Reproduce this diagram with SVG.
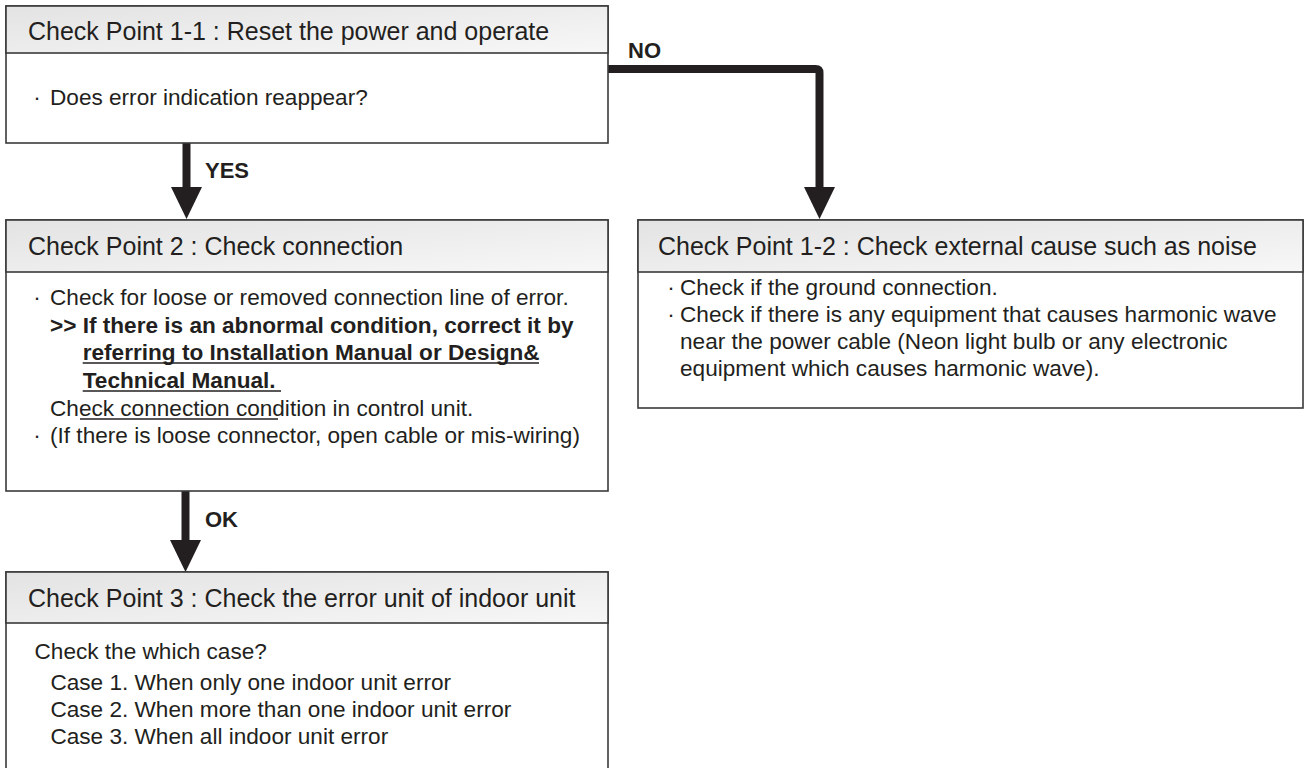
<svg xmlns="http://www.w3.org/2000/svg" width="1304" height="768" viewBox="0 0 1304 768">
<defs>
<linearGradient id="hg" x1="0" y1="0" x2="1" y2="1">
<stop offset="0" stop-color="#e3e3e3"/>
<stop offset="1" stop-color="#f7f7f7"/>
</linearGradient>
</defs>
<style>
.box{fill:#fff;stroke:#3a3a3a;stroke-width:1.6}
.hdr{fill:url(#hg);stroke:#3a3a3a;stroke-width:1.6}
.t{font-family:"Liberation Sans",Arial,sans-serif;font-size:25px;fill:#231f20}
.b{font-family:"Liberation Sans",Arial,sans-serif;font-size:22.6px;fill:#231f20}
.bb{font-family:"Liberation Sans",Arial,sans-serif;font-size:22.6px;font-weight:bold;fill:#231f20}
.lbl{font-family:"Liberation Sans",Arial,sans-serif;font-size:22px;font-weight:bold;fill:#231f20}
.dot{font-family:"Liberation Sans",Arial,sans-serif;font-size:22.6px;fill:#231f20;text-anchor:middle}
.ul{stroke:#231f20;stroke-width:1.6}
.shaft{fill:none;stroke:#231f20;stroke-width:8}
.head{fill:#231f20}
</style>
<rect width="1304" height="768" fill="#fff"/>
<g id="connectors">
<line class="shaft" x1="186.5" y1="143" x2="186.5" y2="190"/>
<polygon class="head" points="171,187 202,187 186.5,219"/>
<text class="lbl" x="205" y="178">YES</text>
<path class="shaft" d="M608,69 H815.5 Q819.5,69 819.5,73 V190"/>
<polygon class="head" points="804,187 835,187 819.5,219"/>
<text class="lbl" x="628" y="58">NO</text>
<line class="shaft" x1="185.5" y1="491" x2="185.5" y2="543"/>
<polygon class="head" points="170,540 201,540 185.5,572"/>
<text class="lbl" x="205" y="527">OK</text>
</g>
<g id="cp11">
<rect class="box" x="6" y="6" width="602" height="137"/>
<rect class="hdr" x="6" y="6" width="602" height="47"/>
<text class="t" x="28" y="40">Check Point 1-1 : Reset the power and operate</text>
<text class="dot" x="37" y="105">·</text>
<text class="b" x="50" y="105">Does error indication reappear?</text>
</g>
<g id="cp2">
<rect class="box" x="6" y="220" width="602" height="271"/>
<rect class="hdr" x="6" y="220" width="602" height="52"/>
<text class="t" x="28" y="255">Check Point 2 : Check connection</text>
<text class="dot" x="37" y="305">·</text>
<text class="b" x="50" y="305">Check for loose or removed connection line of error.</text>
<text class="bb" x="50" y="333">&gt;&gt; If there is an abnormal condition, correct it by</text>
<text class="bb" x="82.7" y="360">referring to Installation Manual or Design&amp;</text>
<line class="ul" x1="82.7" y1="363" x2="539" y2="363"/>
<text class="bb" x="82.7" y="388">Technical Manual.</text>
<line class="ul" x1="82.7" y1="391" x2="281" y2="391"/>
<text class="b" x="50" y="416">Check connection condition in control unit.</text>
<line class="ul" x1="80" y1="419" x2="278" y2="419"/>
<text class="dot" x="37" y="443">·</text>
<text class="b" x="50" y="443">(If there is loose connector, open cable or mis-wiring)</text>
</g>
<g id="cp3">
<rect class="box" x="6" y="572" width="602" height="230"/>
<rect class="hdr" x="6" y="572" width="602" height="51"/>
<text class="t" x="28" y="607">Check Point 3 : Check the error unit of indoor unit</text>
<text class="b" x="34.5" y="659">Check the which case?</text>
<text class="b" x="50.4" y="690">Case 1. When only one indoor unit error</text>
<text class="b" x="50.4" y="717">Case 2. When more than one indoor unit error</text>
<text class="b" x="50.4" y="744">Case 3. When all indoor unit error</text>
</g>
<g id="cp12">
<rect class="box" x="638" y="220" width="665" height="188"/>
<rect class="hdr" x="638" y="220" width="665" height="52"/>
<text class="t" x="658" y="255">Check Point 1-2 : Check external cause such as noise</text>
<text class="dot" x="671" y="295">·</text>
<text class="b" x="680" y="295">Check if the ground connection.</text>
<text class="dot" x="671" y="322">·</text>
<text class="b" x="680" y="322">Check if there is any equipment that causes harmonic wave</text>
<text class="b" x="680" y="349">near the power cable (Neon light bulb or any electronic</text>
<text class="b" x="680" y="376">equipment which causes harmonic wave).</text>
</g>
</svg>
